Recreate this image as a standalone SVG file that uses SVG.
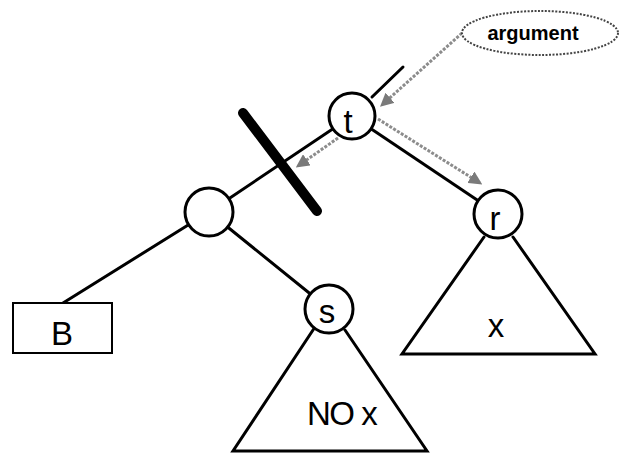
<svg xmlns="http://www.w3.org/2000/svg" width="631" height="455" viewBox="0 0 631 455">
<style>
.edge{stroke:#000;stroke-width:3;fill:none;stroke-linecap:round}
.node{fill:#fff;stroke:#000;stroke-width:3}
.lbl{font-family:"Liberation Sans",Arial,sans-serif;font-size:33px;fill:#000;text-anchor:middle}
.ptr{stroke:#8c8c8c;stroke-width:3;fill:none;stroke-dasharray:3 1.5}
</style>
<defs>
<marker id="ah" viewBox="0 0 10 10" refX="8" refY="5" markerWidth="4.5" markerHeight="4.5" orient="auto" markerUnits="strokeWidth">
<path d="M0,0 L10,5 L0,10 Z" fill="#7a7a7a"/>
</marker>
</defs>
<rect width="631" height="455" fill="#fff"/>
<g id="connectors">
<line class="edge" x1="209" y1="212" x2="352" y2="116"/>
<line class="edge" x1="372" y1="97" x2="403" y2="67"/>
<line class="edge" x1="352" y1="116" x2="498" y2="214"/>
<line class="edge" x1="209" y1="212" x2="63" y2="303"/>
<line class="edge" x1="209" y1="212" x2="329" y2="309"/>
<line x1="243" y1="113" x2="317" y2="211" stroke="#000" stroke-width="10" stroke-linecap="round"/>
<line class="ptr" x1="462" y1="33" x2="382" y2="105" marker-end="url(#ah)"/>
<line class="ptr" x1="378" y1="119" x2="480" y2="183" marker-end="url(#ah)"/>
<line class="ptr" x1="338" y1="138" x2="298" y2="166" marker-end="url(#ah)"/>
</g>
<g id="tri-s">
<path class="edge" d="M315,327 L233,451 L427,451 L345,330"/>
<text class="lbl" x="307" y="425" style="text-anchor:start" letter-spacing="-1.5">NO x</text>
</g>
<g id="tri-r">
<path class="edge" d="M484,237 L402,354 L595,354 L513,237"/>
<text class="lbl" x="496" y="337">x</text>
</g>
<g id="node-t">
<circle class="node" cx="352" cy="116" r="23"/>
<text class="lbl" x="348" y="133">t</text>
</g>
<g id="node-left">
<circle class="node" cx="209" cy="212" r="24"/>
</g>
<g id="node-s">
<circle class="node" cx="329" cy="309" r="24"/>
<text class="lbl" x="327" y="323">s</text>
</g>
<g id="node-r">
<circle class="node" cx="498" cy="214" r="24"/>
<text class="lbl" x="495" y="230">r</text>
</g>
<g id="node-B">
<rect x="13" y="303" width="99" height="50" fill="#fff" stroke="#000" stroke-width="2"/>
<text class="lbl" x="62" y="345">B</text>
</g>
<g id="argument">
<ellipse cx="540" cy="33" rx="78" ry="22" fill="#fff" stroke="#444" stroke-width="2" stroke-dasharray="2 1.5"/>
<text x="533" y="40" font-family="'Liberation Sans',Arial,sans-serif" font-size="20" font-weight="bold" text-anchor="middle">argument</text>
</g>
</svg>
